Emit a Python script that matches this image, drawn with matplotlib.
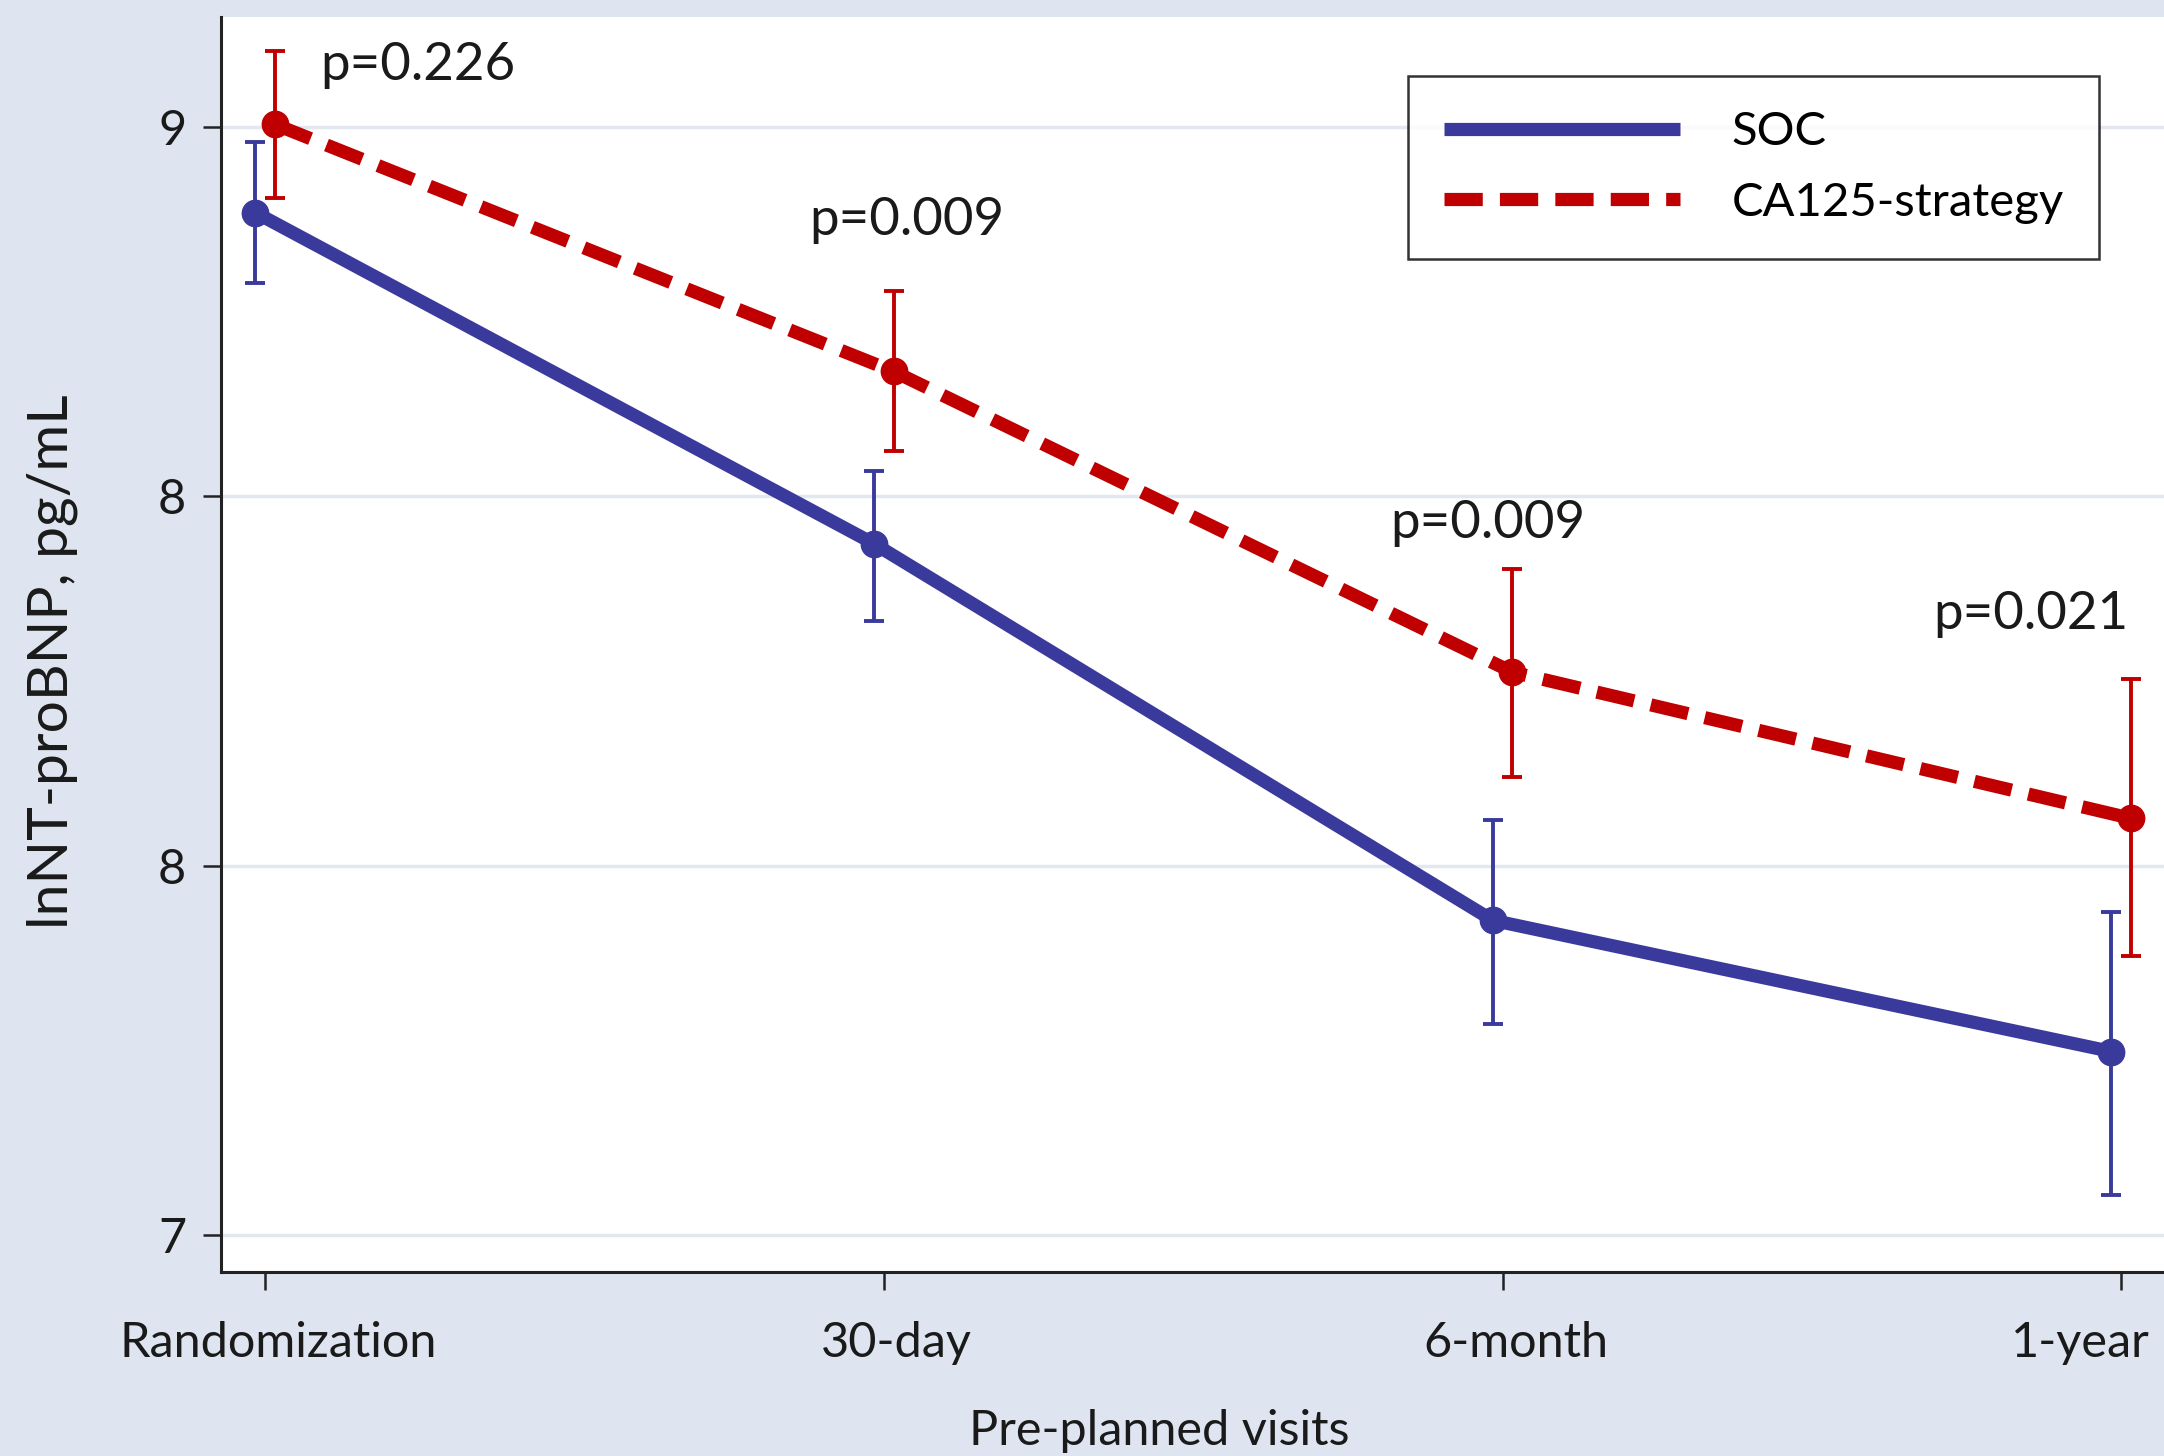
import matplotlib
matplotlib.use("Agg")
import matplotlib.pyplot as plt
import matplotlib.transforms as mtransforms
import numpy as np

# ---- data ----
visits = ["Randomization", "30-day", "6-month", "1-year"]
soc_mean = [8.846, 8.248, 7.568, 7.331]
soc_low = [8.719, 8.108, 7.381, 7.072]
soc_high = [8.973, 8.380, 7.750, 7.583]
ca_mean = [9.005, 8.559, 8.016, 7.752]
ca_low = [8.873, 8.415, 7.827, 7.503]
ca_high = [9.137, 8.704, 8.203, 8.004]
p_labels = ["p=0.226", "p=0.009", "p=0.009", "p=0.021"]
p_x = [0.246, 1.037, 1.976, 2.853]
p_y = [9.112, 8.831, 8.285, 8.121]
ytick_vals = [9, 8.3333, 7.6667, 7]
ytick_labels = ["9", "8", "8", "7"]

plt.rcParams['font.family'] = ['Lato', 'DejaVu Sans']

BG = '#dfe5f0'
BLUE = '#3a3a9c'
RED = '#c00000'
TXT = '#1a1a1a'

fig = plt.figure(figsize=(21.64, 14.56), dpi=100, facecolor=BG)
ax = fig.add_axes([0.1021, 0.1264, 0.8979, 0.8619])
ax.set_facecolor('white')

x = np.arange(len(visits))
off = 0.016

soc_mean_a = np.array(soc_mean)
ca_mean_a = np.array(ca_mean)

ax.errorbar(x - off, soc_mean_a,
            yerr=[soc_mean_a - np.array(soc_low), np.array(soc_high) - soc_mean_a],
            fmt='none', ecolor=BLUE, elinewidth=2.8, capsize=7, capthick=2.8, zorder=3)
ax.errorbar(x + off, ca_mean_a,
            yerr=[ca_mean_a - np.array(ca_low), np.array(ca_high) - ca_mean_a],
            fmt='none', ecolor=RED, elinewidth=2.8, capsize=7, capthick=2.8, zorder=3)

ax.plot(x - off, soc_mean_a, color=BLUE, lw=9.5, marker='o', ms=19,
        solid_capstyle='butt', label='SOC', zorder=4)
ax.plot(x + off, ca_mean_a, color=RED, lw=9.5, marker='o', ms=19,
        dashes=(2.9, 1.3), label='CA125-strategy', zorder=4)

for t, px, py in zip(p_labels, p_x, p_y):
    ax.text(px, py, t, ha='center', va='center', fontsize=38, color=TXT)

ax.set_xlim(-0.0714, 3.069)
ax.set_ylim(6.933, 9.199)
ax.set_xticks(x)
ax.set_xticklabels(visits, fontsize=35, color=TXT)
ax.set_yticks(ytick_vals)
ax.set_yticklabels(ytick_labels, fontsize=35, color=TXT)
ax.tick_params(axis='both', direction='out', length=13, width=1.8, color='#222222')
ax.tick_params(axis='y', pad=12)
ax.tick_params(axis='x', pad=22)

labels = ax.get_xticklabels()
for i, lab in enumerate(labels):
    if i == len(labels) - 1:
        lab.set_ha('right')
        lab.set_transform(lab.get_transform() + mtransforms.ScaledTranslation(0.28, 0, fig.dpi_scale_trans))
    else:
        lab.set_transform(lab.get_transform() + mtransforms.ScaledTranslation(0.13, 0, fig.dpi_scale_trans))

ax.grid(axis='y', color='#e3e7ef', lw=2.5)
ax.set_axisbelow(True)
for s in ['top', 'right']:
    ax.spines[s].set_visible(False)
for s in ['left', 'bottom']:
    ax.spines[s].set_color('#222222')
    ax.spines[s].set_linewidth(2.2)

ax.set_ylabel("lnNT-proBNP, pg/mL", fontsize=41, color=TXT, va='center')
ax.yaxis.set_label_coords(-0.087, 0.486)
ax.set_xlabel("Pre-planned visits", fontsize=35, color=TXT, va='center')
ax.xaxis.set_label_coords(0.483, -0.127)

leg = ax.legend(loc='upper left', bbox_to_anchor=(0.611, 0.953), fontsize=34,
                frameon=True, fancybox=False, edgecolor='black', handlelength=5.0,
                handletextpad=1.1, borderpad=0.75, labelspacing=0.6, borderaxespad=0)
leg.get_frame().set_linewidth(1.8)
for h in leg.get_lines():
    h.set_marker('')

fig.savefig("out.png", dpi=100, facecolor=BG)
